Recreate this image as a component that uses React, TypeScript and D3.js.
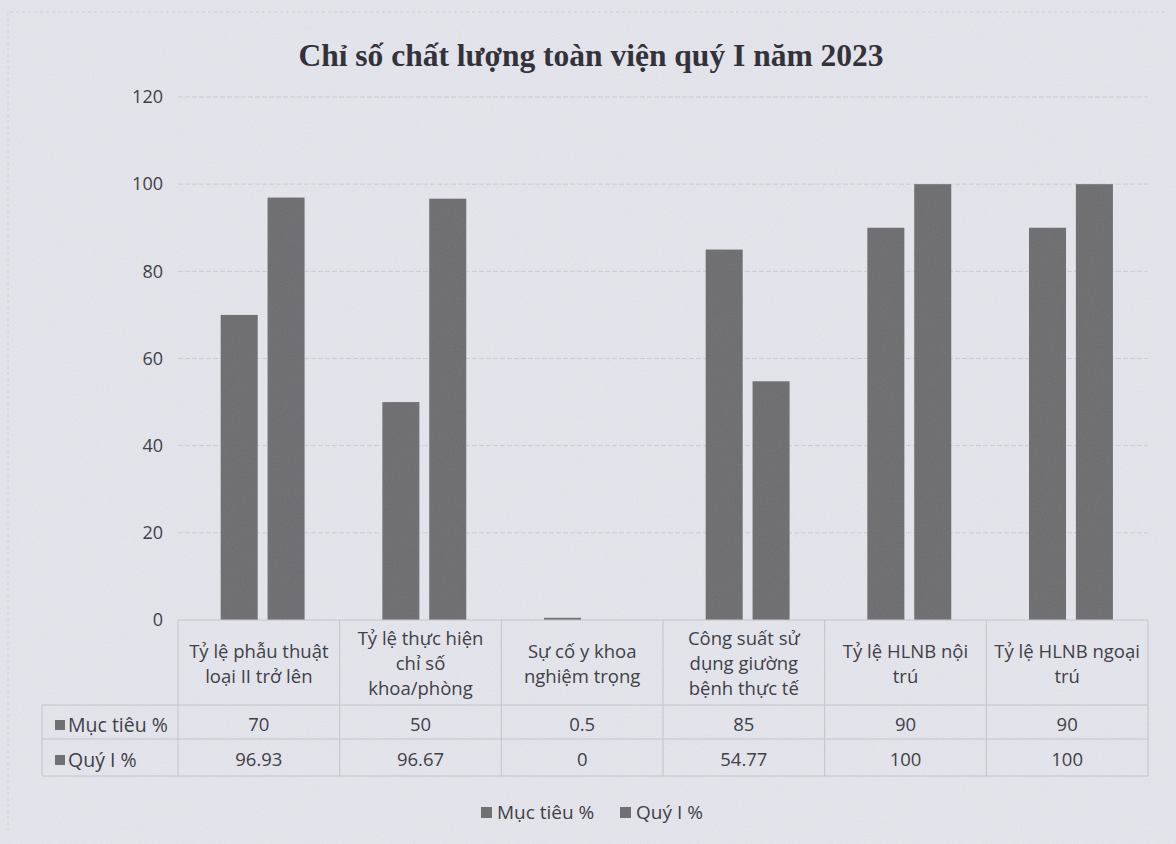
import { scaleLinear, scaleBand } from "d3";

const categories = [
  ["Tỷ lệ phẫu thuật", "loại II trở lên"],
  ["Tỷ lệ thực hiện", "chỉ số", "khoa/phòng"],
  ["Sự cố y khoa", "nghiệm trọng"],
  ["Công suất sử", "dụng giường", "bệnh thực tế"],
  ["Tỷ lệ HLNB nội", "trú"],
  ["Tỷ lệ HLNB ngoại", "trú"],
];
const seriesNames = ["Mục tiêu %", "Quý I %"];
const mucTieu = [70, 50, 0.5, 85, 90, 90];
const quyI = ["96.93", "96.67", "0", "54.77", "100", "100"];
const yTicks = [0, 20, 40, 60, 80, 100, 120];

const W = 1176;
const H = 844;
const left = 178;
const right = 1148;
const top = 97;
const bottom = 620;
const tableLeft = 42;
const rowY = [705, 739, 776];
const rowTextY = [725, 760];

const font = "'Open Sans', 'Liberation Sans', sans-serif";
const textColor = "#38383e";
const barColor = "#6c6c70";
const lineColor = "#c4c4cc";

export default function App() {
  const series = [mucTieu, quyI.map(Number)];
  const rowText = [mucTieu.map(String), quyI];

  const x = scaleBand<number>()
    .domain(categories.map((_, i) => i))
    .range([left, right]);
  const x1 = scaleBand<number>()
    .domain([0, 1])
    .range([x.bandwidth() * 0.264, x.bandwidth() * 0.783])
    .paddingInner(0.21);
  const y = scaleLinear().domain([0, 120]).range([bottom, top]);

  return (
    <svg
      width={W}
      height={H}
      viewBox={`0 0 ${W} ${H}`}
      style={{ position: "absolute", left: 0, top: 0 }}
    >
      <defs>
        <filter id="grain" x="0" y="0" width="100%" height="100%">
          <feTurbulence type="fractalNoise" baseFrequency="0.9" numOctaves="2" seed="3" />
          <feColorMatrix type="saturate" values="0" />
          <feComponentTransfer>
            <feFuncA type="linear" slope="0.12" />
          </feComponentTransfer>
        </filter>
      </defs>
      <rect width={W} height={H} fill="#e5e5ed" />
      <line x1={10} x2={W - 10} y1={12} y2={12} stroke="#cfcfd8" strokeDasharray="3 3" />
      <line x1={8} x2={8} y1={12} y2={H - 10} stroke="#d4d4dc" strokeDasharray="3 3" />

      <text
        x={591}
        y={66}
        textAnchor="middle"
        fontFamily="'Liberation Serif', 'Times New Roman', serif"
        fontWeight="bold"
        fontSize={31.5}
        fill="#2a2a30"
      >
        Chỉ số chất lượng toàn viện quý I năm 2023
      </text>

      {yTicks.map((t) => (
        <g key={t}>
          {t > 0 && (
            <line x1={left} x2={right} y1={y(t)} y2={y(t)} stroke="#cdcdd5" strokeDasharray="5 2" />
          )}
          <text
            x={163}
            y={y(t)}
            dy="0.35em"
            textAnchor="end"
            fontFamily={font}
            fontSize={18}
            fill={textColor}
          >
            {t}
          </text>
        </g>
      ))}

      {categories.map((_, i) =>
        series.map((s, j) => (
          <rect
            key={`${i}-${j}`}
            x={(x(i) ?? 0) + (x1(j) ?? 0)}
            y={y(s[i])}
            width={x1.bandwidth()}
            height={bottom - y(s[i])}
            fill={barColor}
          />
        ))
      )}

      {/* data table */}
      <g stroke={lineColor} strokeWidth={1}>
        <line x1={left} x2={right} y1={bottom} y2={bottom} />
        {rowY.map((ry) => (
          <line key={ry} x1={tableLeft} x2={right} y1={ry} y2={ry} />
        ))}
        <line x1={tableLeft} x2={tableLeft} y1={rowY[0]} y2={rowY[2]} />
        {categories.map((_, i) => (
          <line key={i} x1={(x(i) ?? 0) + x.bandwidth()} x2={(x(i) ?? 0) + x.bandwidth()} y1={bottom} y2={rowY[2]} />
        ))}
        <line x1={left} x2={left} y1={bottom} y2={rowY[2]} />
      </g>

      {categories.map((lines, i) => {
        const cx = (x(i) ?? 0) + x.bandwidth() / 2;
        const lh = 25;
        const cy = 664 - ((lines.length - 1) * lh) / 2;
        return (
          <text key={i} textAnchor="middle" fontFamily={font} fontSize={18.5} fill={textColor}>
            {lines.map((l, k) => (
              <tspan key={k} x={cx} y={cy + k * lh} dy="0.35em">
                {l}
              </tspan>
            ))}
          </text>
        );
      })}

      {rowText.map((vals, j) => (
        <g key={j}>
          <rect x={55} y={rowTextY[j] - 5} width={10} height={10} fill={barColor} />
          <text
            x={68}
            y={rowTextY[j]}
            dy="0.35em"
            fontFamily={font}
            fontSize={19.5}
            fill={textColor}
          >
            {seriesNames[j]}
          </text>
          {vals.map((v, i) => (
            <text
              key={i}
              x={(x(i) ?? 0) + x.bandwidth() / 2}
              y={rowTextY[j]}
              dy="0.35em"
              textAnchor="middle"
              fontFamily={font}
              fontSize={18.5}
              fill={textColor}
            >
              {v}
            </text>
          ))}
        </g>
      ))}

      {/* legend */}
      {seriesNames.map((n, j) => (
        <g key={n} transform={`translate(${[481, 620][j]},812)`}>
          <rect x={0} y={-5} width={11} height={11} fill={barColor} />
          <text x={16} dy="0.35em" fontFamily={font} fontSize={19} fill={textColor}>
            {n}
          </text>
        </g>
      ))}

      <rect width={W} height={H} filter="url(#grain)" pointerEvents="none" />
    </svg>
  );
}
